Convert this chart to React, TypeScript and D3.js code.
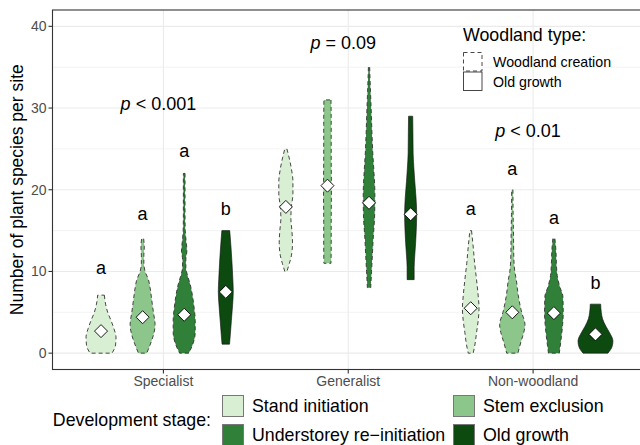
import React from 'react';
import * as d3 from 'd3';

const categories = ['Specialist', 'Generalist', 'Non-woodland'];
const stages = ['Stand initiation', 'Stem exclusion', 'Understorey re\u2212initiation', 'Old growth'];
const stageColors = ['#d8efd3', '#8cc68a', '#31803a', '#0c4a10'];
const stageDashed = [true, true, true, false];
const woodlandTypes = ['Woodland creation', 'Old growth'];
const yTicks = [0, 10, 20, 30, 40];
const yMinorTicks = [5, 15, 25, 35];

// violin density profiles: [species count, relative half-width]
const specialistProfiles: [number, number][][] = [
  [[7.1, 0.16], [6, 0.22], [5, 0.32], [4, 0.48], [3, 0.62], [2, 0.72], [1, 0.7], [0, 0.53]],
  [[14, 0.05], [13, 0.08], [12, 0.06], [11, 0.06], [10, 0.12], [9, 0.28], [8, 0.36], [6.5, 0.44], [5, 0.52], [3.5, 0.6], [2.5, 0.55], [1.5, 0.43], [0, 0.2]],
  [[22, 0.04], [20, 0.04], [17, 0.04], [15, 0.05], [13.5, 0.1], [12.5, 0.13], [11.5, 0.08], [10.5, 0.08], [9.5, 0.16], [8.5, 0.28], [7, 0.4], [5.5, 0.48], [4, 0.53], [2.5, 0.53], [1, 0.4], [0, 0.22]],
  [[15, 0.19], [13, 0.25], [11, 0.3], [9, 0.34], [7.5, 0.36], [6, 0.33], [4, 0.27], [2, 0.21], [1.1, 0.18]],
];
const generalistProfiles: [number, number][][] = [
  [[25, 0.05], [24, 0.15], [22.5, 0.27], [21, 0.34], [19.5, 0.34], [18, 0.27], [16.5, 0.24], [15, 0.29], [13.5, 0.32], [12, 0.27], [11, 0.17], [10, 0.05]],
  [[31, 0.17], [28, 0.18], [24, 0.18], [20, 0.19], [16, 0.18], [13, 0.18], [11, 0.17]],
  [[35, 0.03], [32, 0.07], [30, 0.1], [27, 0.14], [24.5, 0.18], [22, 0.24], [19.5, 0.28], [17, 0.27], [14, 0.2], [12, 0.16], [10, 0.12], [8, 0.08]],
  [[29, 0.1], [27, 0.11], [24.5, 0.12], [22.5, 0.16], [21, 0.2], [19, 0.26], [17, 0.29], [15, 0.27], [13.5, 0.24], [12, 0.2], [10.5, 0.17], [9, 0.17]],
];
const nonWoodlandProfiles: [number, number][][] = [
  [[15, 0.04], [13, 0.12], [11, 0.19], [9, 0.28], [7, 0.36], [5.5, 0.4], [4, 0.36], [2.5, 0.28], [1, 0.2], [0, 0.12]],
  [[20, 0.03], [17, 0.04], [14, 0.06], [12, 0.07], [10, 0.12], [9, 0.19], [7, 0.29], [5, 0.45], [3.5, 0.61], [2.5, 0.55], [1.5, 0.43], [0, 0.27]],
  [[14, 0.05], [12.5, 0.1], [11, 0.12], [9.5, 0.16], [8, 0.3], [7, 0.43], [5, 0.45], [3.5, 0.42], [2, 0.36], [0, 0.26]],
  [[6, 0.25], [5, 0.28], [4.2, 0.34], [3.3, 0.5], [2.5, 0.68], [1.5, 0.84], [0.8, 0.8], [0, 0.6]],
];
const specialistMeans = [2.7, 4.4, 4.7, 7.5];
const generalistMeans = [17.9, 20.5, 18.4, 17.0];
const nonWoodlandMeans = [5.5, 5.0, 4.9, 2.3];

const specialistLetters = ['a', 'a', 'a', 'b'];
const specialistLetterY = [10.4, 17.1, 24.8, 17.7];
const generalistLetters: string[] = [];
const generalistLetterY: number[] = [];
const nonWoodlandLetters = ['a', 'a', 'a', 'b'];
const nonWoodlandLetterY = [17.7, 22.6, 16.6, 8.6];

const pSigns = ['< 0.001', '= 0.09', '< 0.01'];
const pLabelY = [30.5, 38, 27.2];

const profiles = [specialistProfiles, generalistProfiles, nonWoodlandProfiles];
const means = [specialistMeans, generalistMeans, nonWoodlandMeans];
const letters = [specialistLetters, generalistLetters, nonWoodlandLetters];
const letterY = [specialistLetterY, generalistLetterY, nonWoodlandLetterY];

const W = 640;
const H = 445;
const FONT = '"Liberation Sans", Arial, sans-serif';

export default function App() {
  const panel = { left: 52.5, right: 644, top: 10, bottom: 369.5 };
  const y = d3.scaleLinear().domain([-2, 42]).range([panel.bottom, panel.top]);
  const step = (panel.right - panel.left) / 3.2;
  const x = d3
    .scalePoint<string>()
    .domain(categories)
    .range([panel.left + 0.6 * step, panel.right - 0.6 * step]);
  const dodge = d3
    .scaleBand<number>()
    .domain([0, 1, 2, 3])
    .range([-0.45 * step, 0.45 * step]);
  const halfW = d3.scaleLinear().domain([0, 1]).range([0, dodge.bandwidth() / 2]);

  const diamond = (cx: number, cy: number, r: number) =>
    `M${cx},${cy - r}L${cx + r},${cy}L${cx},${cy + r}L${cx - r},${cy}Z`;

  const legendRows = [0, 1];
  const legendCols = [222, 453];

  return (
    <svg width={W} height={H} style={{ position: 'absolute', left: 0, top: 0, fontFamily: FONT }}>
      <rect x={0} y={0} width={W} height={H} fill="#fff" />
      {/* grid */}
      {yMinorTicks.map((t) => (
        <line key={'mn' + t} x1={panel.left} x2={panel.right} y1={y(t)} y2={y(t)} stroke="#ebebeb" strokeWidth={0.6} />
      ))}
      {yTicks.map((t) => (
        <line key={'mj' + t} x1={panel.left} x2={panel.right} y1={y(t)} y2={y(t)} stroke="#ebebeb" strokeWidth={1.1} />
      ))}
      {categories.map((c) => (
        <line key={'vx' + c} x1={x(c)} x2={x(c)} y1={panel.top} y2={panel.bottom} stroke="#ebebeb" strokeWidth={1.1} />
      ))}

      {/* violins */}
      {categories.map((c, ci) =>
        profiles[ci].map((prof, si) => {
          const cx = (x(c) as number) + (dodge(si) as number) + dodge.bandwidth() / 2;
          const area = d3
            .area<[number, number]>()
            .y((d) => y(d[0]))
            .x0((d) => cx - halfW(d[1]))
            .x1((d) => cx + halfW(d[1]))
            .curve(d3.curveMonotoneY);
          return (
            <path
              key={c + si}
              d={area(prof) || ''}
              fill={stageColors[si]}
              stroke={stageDashed[si] ? '#333' : '#111'}
              strokeWidth={stageDashed[si] ? 0.9 : 0.6}
              strokeDasharray={stageDashed[si] ? '4,3' : undefined}
            />
          );
        })
      )}

      {/* means */}
      {categories.map((c, ci) =>
        means[ci].map((m, si) => {
          const cx = (x(c) as number) + (dodge(si) as number) + dodge.bandwidth() / 2;
          return <path key={'m' + c + si} d={diamond(cx, y(m), 6.5)} fill="#fff" stroke="#000" strokeWidth={0.9} />;
        })
      )}

      {/* letters */}
      {categories.map((c, ci) =>
        letters[ci].map((l, si) => {
          const cx = (x(c) as number) + (dodge(si) as number) + dodge.bandwidth() / 2;
          return (
            <text key={'l' + c + si} x={cx} y={y(letterY[ci][si])} dy="0.35em" textAnchor="middle" fontSize={18} fill="#000">
              {l}
            </text>
          );
        })
      )}

      {/* p labels */}
      {categories.map((c, ci) => (
        <text key={'p' + c} x={(x(c) as number) - 5} y={y(pLabelY[ci])} dy="0.35em" textAnchor="middle" fontSize={18} fill="#000">
          <tspan fontStyle="italic">p</tspan>
          {' ' + pSigns[ci]}
        </text>
      ))}

      {/* panel border */}
      <rect x={panel.left} y={panel.top} width={panel.right - panel.left} height={panel.bottom - panel.top} fill="none" stroke="#333" strokeWidth={1.1} />

      {/* y axis */}
      {yTicks.map((t) => (
        <g key={'yt' + t}>
          <line x1={panel.left - 4} x2={panel.left} y1={y(t)} y2={y(t)} stroke="#333" strokeWidth={1.1} />
          <text x={panel.left - 6} y={y(t)} dy="0.35em" textAnchor="end" fontSize={14} fill="#4d4d4d">
            {t}
          </text>
        </g>
      ))}
      <text
        transform={`translate(23,${(panel.top + panel.bottom) / 2}) rotate(-90)`}
        textAnchor="middle"
        fontSize={17.5}
        fill="#000"
      >
        Number of plant species per site
      </text>

      {/* x axis */}
      {categories.map((c) => (
        <g key={'xt' + c}>
          <line x1={x(c)} x2={x(c)} y1={panel.bottom} y2={panel.bottom + 4} stroke="#333" strokeWidth={1.1} />
          <text x={x(c)} y={panel.bottom + 12} dy="0.35em" textAnchor="middle" fontSize={14} fill="#4d4d4d">
            {c}
          </text>
        </g>
      ))}

      {/* woodland type legend */}
      <text x={463} y={35} dy="0.35em" fontSize={17.8} fill="#000">
        Woodland type:
      </text>
      {woodlandTypes.map((wt, i) => (
        <g key={'wt' + i}>
          <rect
            x={463.5}
            y={52.5 + i * 19.5}
            width={18.5}
            height={18.5}
            fill="#fff"
            stroke="#333"
            strokeWidth={0.9}
            strokeDasharray={i === 0 ? '4,3' : undefined}
          />
          <text x={493} y={62 + i * 20} dy="0.35em" fontSize={14.2} fill="#000">
            {wt}
          </text>
        </g>
      ))}

      {/* development stage legend */}
      <text x={211} y={420} dy="0.35em" textAnchor="end" fontSize={17.8} fill="#000">
        Development stage:
      </text>
      {stages.map((s, i) => {
        const row = legendRows[Math.floor(i / 2)];
        const kx = legendCols[i % 2];
        const ky = 395 + row * 29;
        return (
          <g key={'ds' + i}>
            <rect x={kx + 0.5} y={ky + 0.5} width={21} height={21} fill={stageColors[i]} stroke="#777" strokeWidth={1} />
            <text x={kx + 30} y={ky + 11} dy="0.35em" fontSize={17.8} fill="#000">
              {s}
            </text>
          </g>
        );
      })}
    </svg>
  );
}
